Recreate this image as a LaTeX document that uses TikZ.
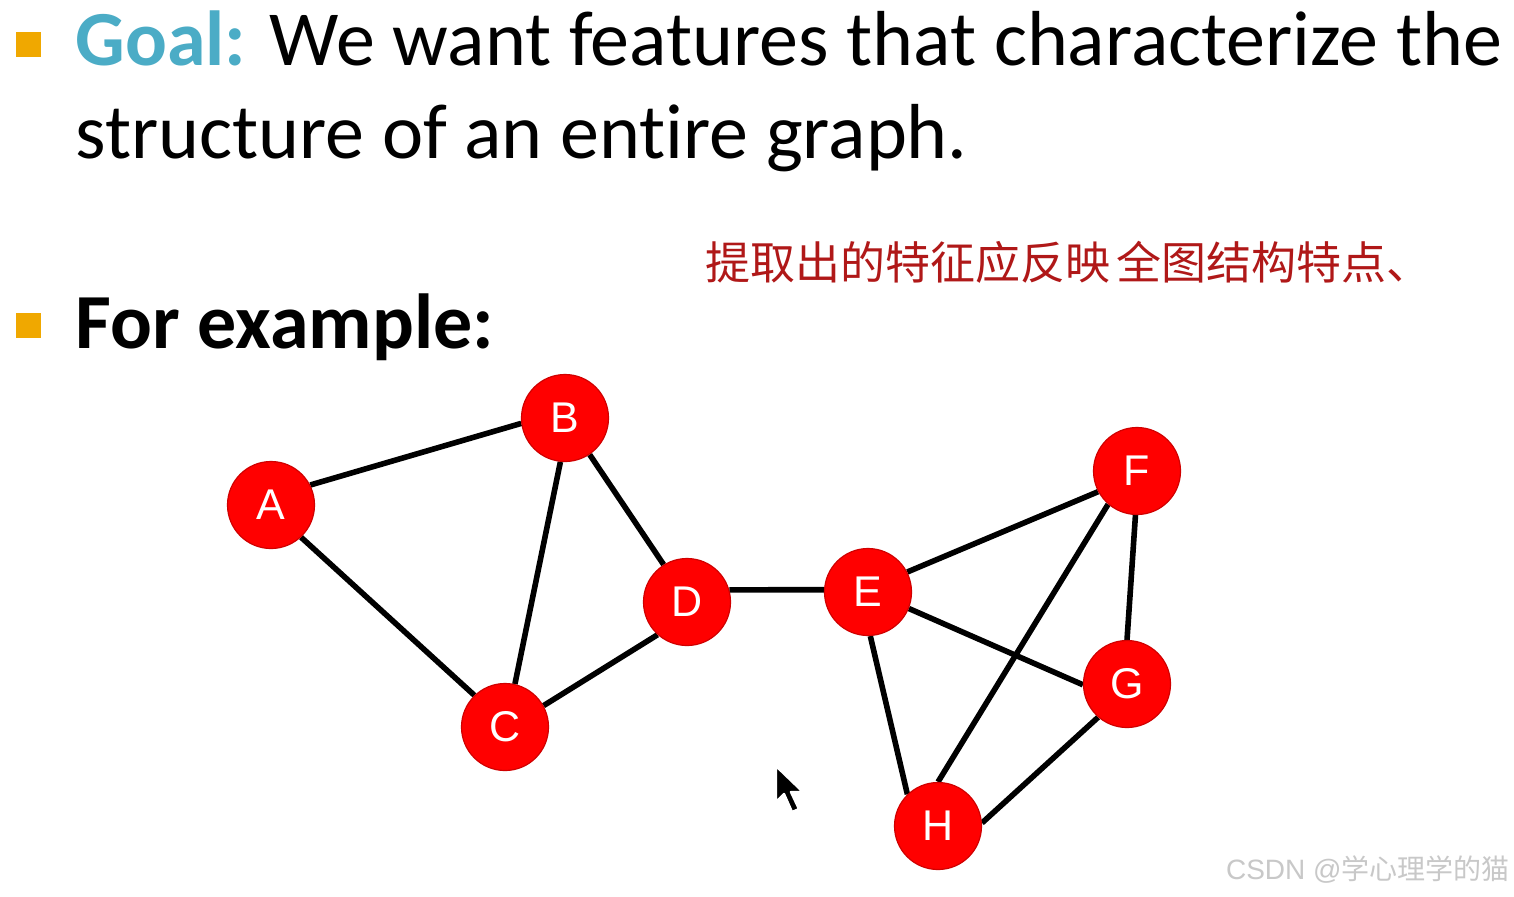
\documentclass[tikz,border=0pt]{standalone}
\usepackage{fontspec}
\setmainfont{Carlito}[Ligatures=NoCommon]
\newfontfamily\arialf{Liberation Sans}
\newfontfamily\cjkf{Noto Sans CJK SC}
\definecolor{bulletc}{HTML}{F0A800}
\definecolor{goalc}{HTML}{4BACC6}
\definecolor{noder}{HTML}{FF0000}
\definecolor{nodeb}{HTML}{D00000}
\definecolor{handc}{HTML}{B01818}
\definecolor{wmc}{HTML}{C8C8C8}
\pgfdeclarelayer{bg}
\pgfsetlayers{bg,main}
\begin{document}
\begin{tikzpicture}[x=0.5pt,y=-0.5pt,
  bulletsq/.style={fill=bulletc,draw=none,minimum size=12.5pt,inner sep=0pt},
  txt/.style={anchor=base west,inner sep=0pt},
  gnode/.style={circle,fill=noder,draw=nodeb,line width=0.6pt,minimum size=43.5pt,inner sep=0pt,text=white,font=\arialf\fontsize{21.5}{21.5}\selectfont},
  gedge/.style={line width=2.8pt,black}]
\useasboundingbox (0,0) rectangle (1514,896);
% bullets
\node[bulletsq] (b1) at (28,44) {};
\node[bulletsq] (b2) at (28,325) {};
% text
\node[txt,font=\fontsize{39}{39}\selectfont] (l1) at (75,65) {\textbf{\color{goalc}Goal:} We want features that characterize the};
\node[txt,font=\fontsize{39}{39}\selectfont] (l2) at (75,158) {structure of an entire graph.};
\node[txt,font=\bfseries\fontsize{39}{39}\selectfont] (l3) at (75,348) {For example:};
\node[anchor=west,inner sep=0pt,text=handc,font=\cjkf\fontsize{22.5}{22.5}\selectfont] (hand) at (705,262) {提取出的特征应反映\kern3pt 全图结构特点、};
% graph
\node[gnode] (A) at (271,505) {A};
\node[gnode] (B) at (565,418) {B};
\node[gnode] (C) at (505,727) {C};
\node[gnode] (D) at (687,602) {D};
\node[gnode] (E) at (868,592) {E};
\node[gnode] (F) at (1137,471) {F};
\node[gnode] (G) at (1127,684) {G};
\node[gnode] (H) at (938,826) {H};
\begin{pgfonlayer}{bg}
\fill[white] (0,0) rectangle (1514,896);
\draw[gedge] (A.27) -- (B.187);
\draw[gedge] (A.-47) -- (C.134);
\draw[gedge] (B.264) -- (C.77);
\draw[gedge] (B.-56) -- (D.122);
\draw[gedge] (C.29) -- (D.228);
\draw[gedge] (D.16) -- (E.177);
\draw[gedge] (E.27) -- (F.208);
\draw[gedge] (E.-22) -- (G.181);
\draw[gedge] (E.-87) -- (H.134);
\draw[gedge] (F.268) -- (G.90);
\draw[gedge] (F.229) -- (H.90);
\draw[gedge] (G.229) -- (H.4);
\end{pgfonlayer}
% cursor
\coordinate (cur) at (776,766);
\fill[black,draw=white,line width=1.2pt,line join=round] (cur) -- ++(0,36) -- ++(8,-8) -- ++(8,18) -- ++(7,-3) -- ++(-8,-17) -- ++(12,0) -- cycle;
% watermark
\node[anchor=east,inner sep=0pt,text=wmc,font=\cjkf\fontsize{14}{14}\selectfont] (wm) at (1510,870) {\arialf CSDN @\cjkf 学心理学的猫};
\end{tikzpicture}
\end{document}
